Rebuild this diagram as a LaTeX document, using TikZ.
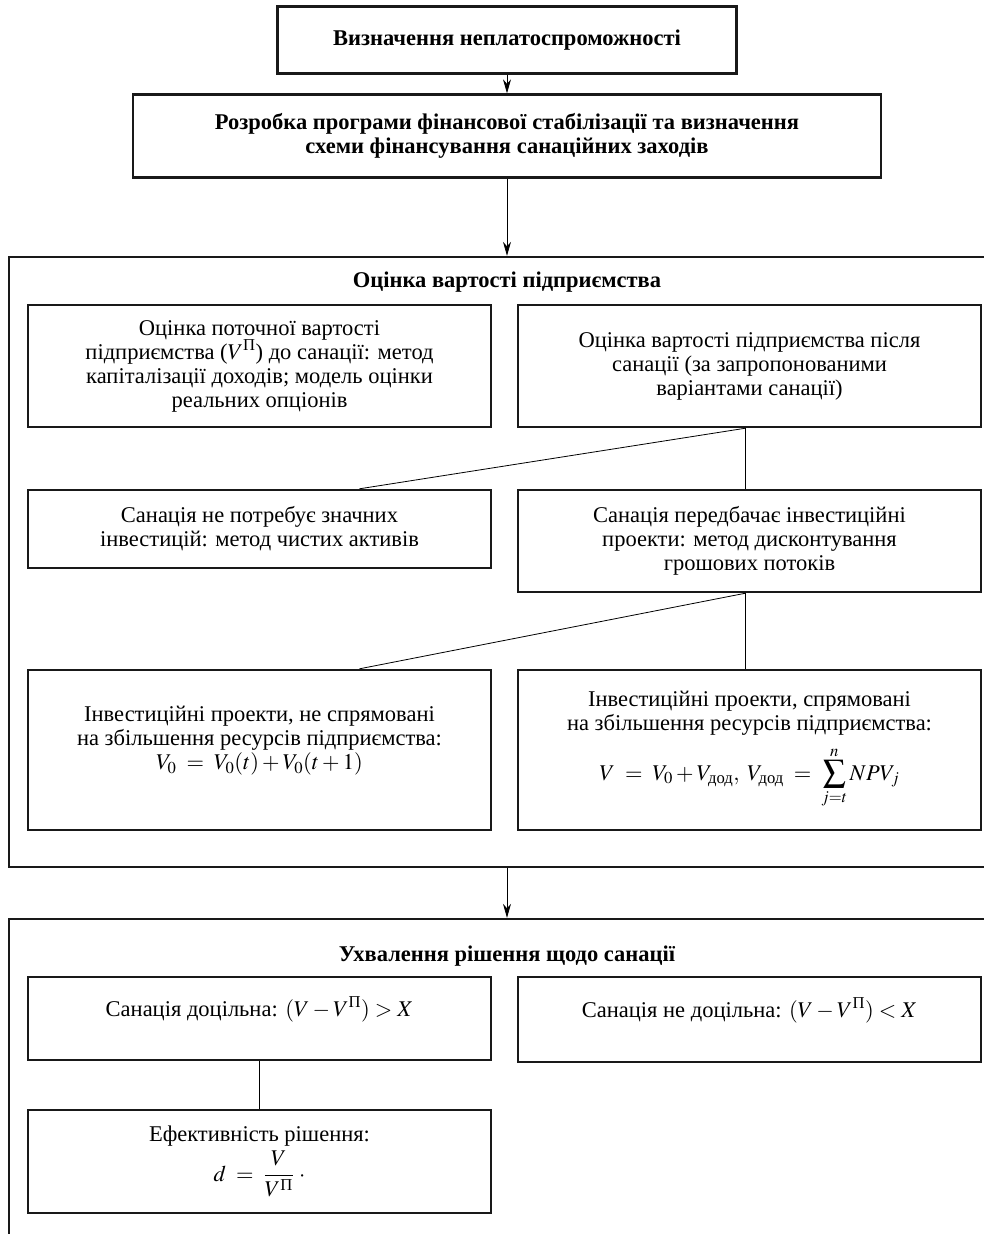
\documentclass[tikz,border=0pt]{standalone}
\usepackage{amsmath}
\usepackage{mathptmx}
\usepackage[no-math]{fontspec}
\setmainfont{Liberation Serif}
\usetikzlibrary{arrows.meta}

\tikzset{
  box/.style={draw=black!90,line width=2.4pt,align=center,inner sep=0pt,
    font=\fontsize{22.5}{24}\selectfont,minimum width=463pt},
  head/.style={font=\fontsize{22.5}{24}\selectfont\bfseries,align=center,inner sep=0pt},
  frame/.style={draw=black!90,line width=2.4pt,inner sep=0pt,minimum width=996pt}
}

\begin{document}
\begin{tikzpicture}[x=1pt,y=-1pt]
        \useasboundingbox (0,0) rectangle (984,1234);
        \clip (0,0) rectangle (984,1234);
        \begin{scope}[every node/.style={box}]
          \node[head,draw=black!90,line width=2.4pt,minimum width=459pt,minimum height=67pt] (start) at (507,40) {Визначення неплатоспроможності};
          \node[head,draw=black!90,line width=2.4pt,minimum width=748pt,minimum height=83pt] (plan) at (507,136) {Розробка програми фінансової стабілізації та визначення\\ схеми фінансування санаційних заходів};
          \node[frame,minimum height=610pt] (valfr) at (507,562) {};
          \node[head,draw=none] (valtitle) at (507,282) {Оцінка вартості підприємства};
          \node[minimum height=122pt] (cur) at (259.5,366) {Оцінка поточної вартості\\ підприємства ($V^{\text{П}}$) до санації: метод\\ капіталізації доходів; модель оцінки\\ реальних опціонів};
          \node[minimum height=122pt] (after) at (749.5,366) {Оцінка вартості підприємства після\\ санації (за запропонованими\\ варіантами санації)};
          \node[minimum height=78pt] (noinv) at (259.5,529) {Санація не потребує значних\\ інвестицій: метод чистих активів};
          \node[minimum height=102pt] (inv) at (749.5,541) {Санація передбачає інвестиційні\\ проекти: метод дисконтування\\ грошових потоків};
          \node[minimum height=160pt] (notgrow) at (259.5,750) {Інвестиційні проекти, не спрямовані\\ на збільшення ресурсів підприємства:\\ $V_0 \;=\; V_0(t) + V_0(t+1)$\\ \rule{0pt}{6pt}};
          \node[minimum height=160pt] (grow) at (749.5,750) {Інвестиційні проекти, спрямовані\\ на збільшення ресурсів підприємства:\\[10pt] $\displaystyle V \;=\; V_0 + V_{\text{дод}},\; V_{\text{дод}} \;=\; \sum_{j=t}^{n} NPV_j$};
          \node[frame,minimum height=381pt] (decfr) at (507,1109.5) {};
          \node[head,draw=none] (dectitle) at (507,956) {Ухвалення рішення щодо санації};
          \node[minimum height=83pt] (yes) at (259.5,1018.5) {Санація доцільна: $(V - V^{\text{П}}) > X$\\ \rule{0pt}{10pt}};
          \node[minimum height=85pt] (no) at (749.5,1019.5) {Санація не доцільна: $(V - V^{\text{П}}) < X$\\ \rule{0pt}{10pt}};
          \node[minimum height=103pt] (eff) at (259.5,1161.5) {Ефективність рішення:\\[4pt] $d \;=\; \dfrac{V}{V^{\text{П}}}\;\cdot$};
        \end{scope}
        \begin{scope}[every edge/.style={draw=black,line width=0.8pt}]
          \path (start.south) edge[-{Stealth[length=14pt,width=8pt]}] (plan.north);
          \path (plan.south) edge[-{Stealth[length=14pt,width=8pt]}] (valfr.north);
          \path ([xshift=-4pt]after.south) edge ([xshift=100pt]noinv.north);
          \path ([xshift=-4pt]after.south) edge ([xshift=-4pt]inv.north);
          \path ([xshift=-4pt]inv.south) edge ([xshift=100pt]notgrow.north);
          \path ([xshift=-4pt]inv.south) edge ([xshift=-4pt]grow.north);
          \path (valfr.south) edge[-{Stealth[length=14pt,width=8pt]}] (decfr.north);
          \path (yes.south) edge (eff.north);
        \end{scope}
      \end{tikzpicture}
\end{document}
